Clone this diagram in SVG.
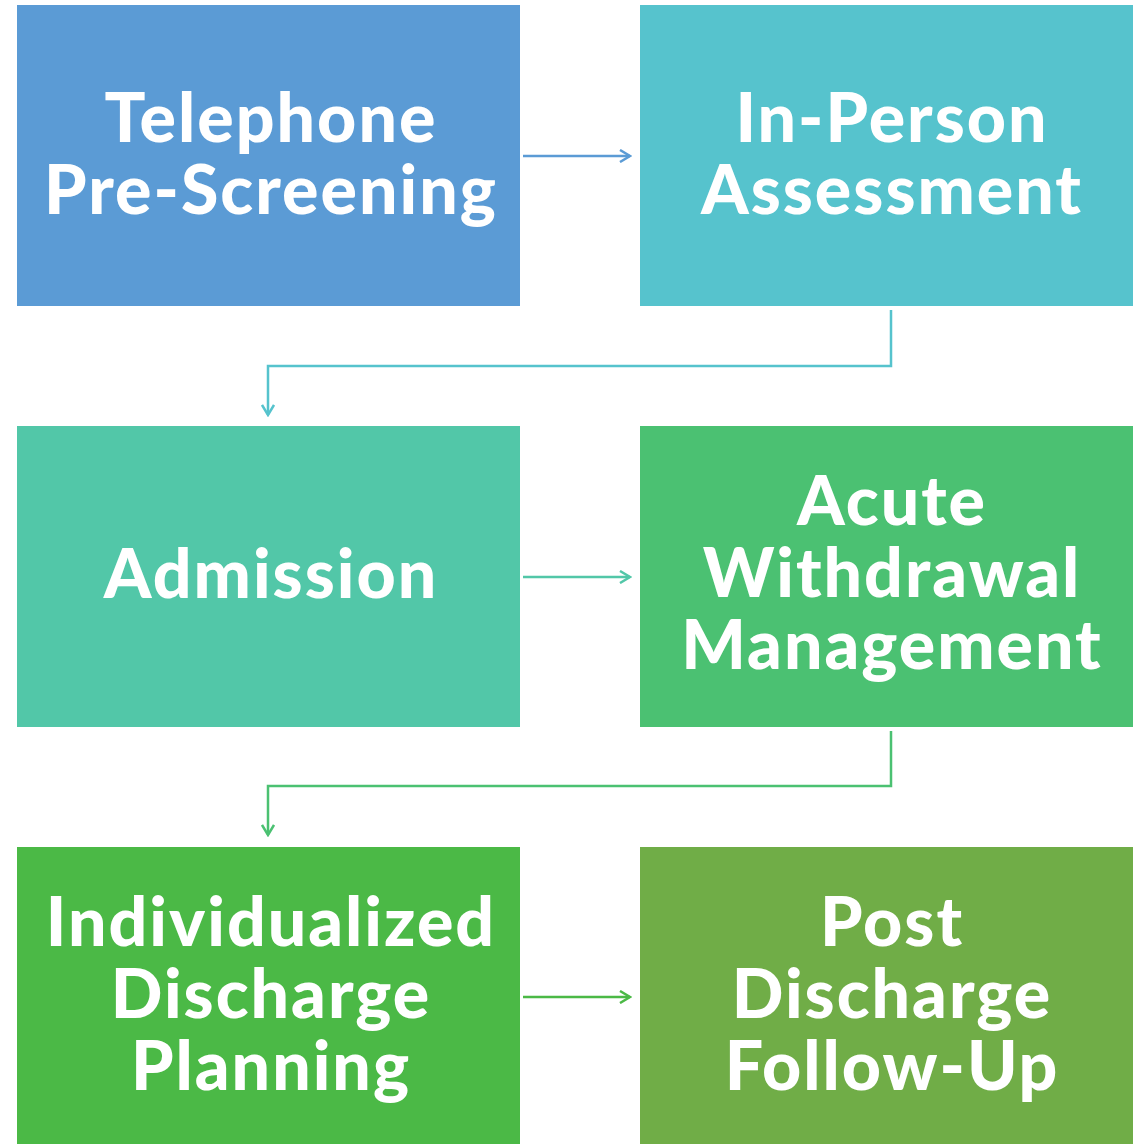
<svg xmlns="http://www.w3.org/2000/svg" width="1133" height="1144" viewBox="0 0 1133 1144">
<style>
.t{font-family:Lato,"Open Sans","Liberation Sans",sans-serif;font-weight:900;font-size:68px;letter-spacing:2px;fill:#fff;text-anchor:middle}
.c{fill:none;stroke-width:2.5}
</style>
<defs>
<marker id="a1" markerWidth="14" markerHeight="14" refX="12" refY="7" orient="auto" markerUnits="userSpaceOnUse"><path d="M2,1 L12,7 L2,13" fill="none" stroke="#5B9BD5" stroke-width="2.5"/></marker>
<marker id="a2" markerWidth="14" markerHeight="14" refX="12" refY="7" orient="auto" markerUnits="userSpaceOnUse"><path d="M2,1 L12,7 L2,13" fill="none" stroke="#56C3CD" stroke-width="2.5"/></marker>
<marker id="a3" markerWidth="14" markerHeight="14" refX="12" refY="7" orient="auto" markerUnits="userSpaceOnUse"><path d="M2,1 L12,7 L2,13" fill="none" stroke="#52C7A8" stroke-width="2.5"/></marker>
<marker id="a4" markerWidth="14" markerHeight="14" refX="12" refY="7" orient="auto" markerUnits="userSpaceOnUse"><path d="M2,1 L12,7 L2,13" fill="none" stroke="#4BC172" stroke-width="2.5"/></marker>
<marker id="a5" markerWidth="14" markerHeight="14" refX="12" refY="7" orient="auto" markerUnits="userSpaceOnUse"><path d="M2,1 L12,7 L2,13" fill="none" stroke="#4BB946" stroke-width="2.5"/></marker>
</defs>
<g id="connectors">
<path class="c" stroke="#5B9BD5" d="M523,156 H630" marker-end="url(#a1)"/>
<path class="c" stroke="#56C3CD" d="M891,310 V366 H268 V415" marker-end="url(#a2)"/>
<path class="c" stroke="#52C7A8" d="M523,577 H630" marker-end="url(#a3)"/>
<path class="c" stroke="#4BC172" d="M891,731 V786 H268 V835" marker-end="url(#a4)"/>
<path class="c" stroke="#4BB946" d="M523,997 H630" marker-end="url(#a5)"/>
</g>
<g id="n1"><rect x="17" y="5" width="503" height="301" fill="#5B9BD5"/><text class="t" x="271" y="142">Telephone</text><text class="t" x="271" y="214">Pre-Screening</text></g>
<g id="n2"><rect x="640" y="5" width="502" height="301" fill="#56C3CD"/><text class="t" x="892" y="142">In-Person</text><text class="t" x="892" y="214">Assessment</text></g>
<g id="n3"><rect x="17" y="426" width="503" height="301" fill="#52C7A8"/><text class="t" x="271" y="598">Admission</text></g>
<g id="n4"><rect x="640" y="426" width="502" height="301" fill="#4BC172"/><text class="t" x="892" y="525">Acute</text><text class="t" x="892" y="597">Withdrawal</text><text class="t" x="892" y="669">Management</text></g>
<g id="n5"><rect x="17" y="847" width="503" height="297" fill="#4BB946"/><text class="t" x="271" y="946">Individualized</text><text class="t" x="271" y="1018">Discharge</text><text class="t" x="271" y="1090">Planning</text></g>
<g id="n6"><rect x="640" y="847" width="502" height="297" fill="#70AD47"/><text class="t" x="892" y="946">Post</text><text class="t" x="892" y="1018">Discharge</text><text class="t" x="892" y="1090">Follow-Up</text></g>
</svg>
